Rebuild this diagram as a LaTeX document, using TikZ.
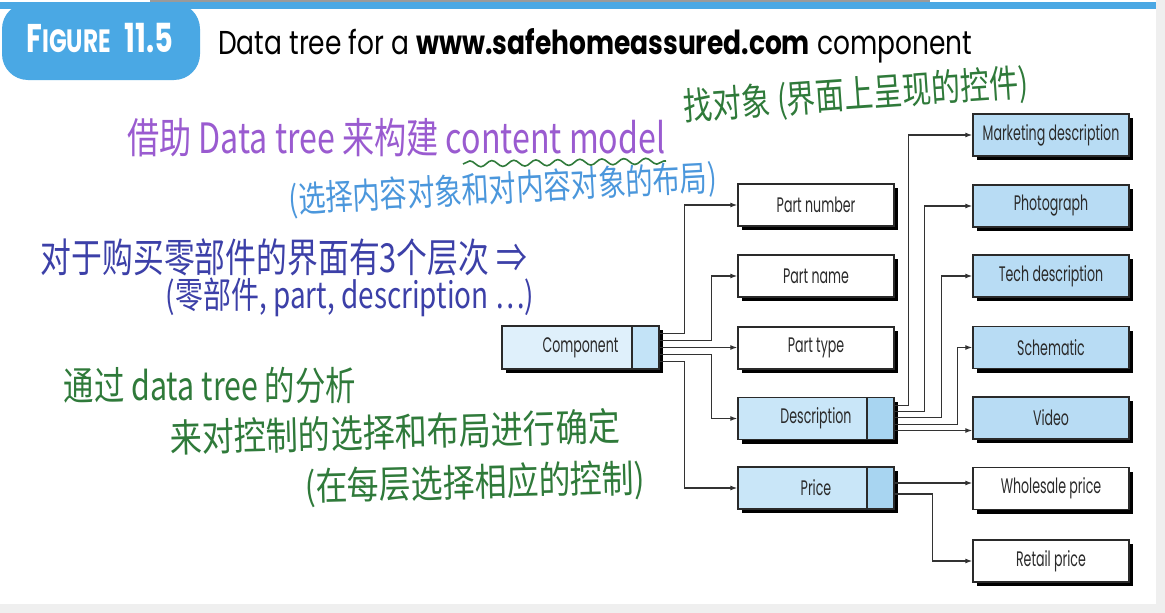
\documentclass[tikz,border=0pt]{standalone}
\usepackage{fontspec}
\setmainfont{Poppins}
\newfontfamily\boxfont[FakeStretch=0.6]{Poppins}
\newfontfamily\titlefont[FakeStretch=0.8]{Poppins}
\newfontfamily\tabfont[FakeStretch=0.72]{Poppins}
\newfontfamily\cjk{Noto Sans CJK SC}
\usetikzlibrary{shadows,arrows.meta,decorations.pathmorphing,calc}
\definecolor{tabblue}{HTML}{4AA8E4}
\definecolor{topgray}{HTML}{9A9A9A}
\definecolor{edgegray}{HTML}{EFEFEF}
\definecolor{boxblue}{HTML}{B8DCF4}
\definecolor{compmain}{HTML}{DFF0FB}
\definecolor{compcell}{HTML}{C3E3F7}
\definecolor{descmain}{HTML}{C9E6F8}
\definecolor{desccell}{HTML}{A8D5F1}
\definecolor{boxline}{HTML}{2A2A2A}
\definecolor{linec}{HTML}{333333}
\definecolor{textc}{HTML}{2B2B2B}
\definecolor{hpurple}{HTML}{9A5BD0}
\definecolor{hblue}{HTML}{4B97DC}
\definecolor{hdblue}{HTML}{3C40A8}
\definecolor{hgreen}{HTML}{2F7A3A}
\newcommand{\handtext}[3][1.3]{\scalebox{1}[#1]{\resizebox{#2}{!}{#3}}}
\tikzset{
  bx/.style={draw=boxline, line width=1.4pt, minimum width=156pt, minimum height=42pt,
    inner sep=0pt, font=\boxfont\fontsize{21}{22}\selectfont, text=textc,
    drop shadow={shadow xshift=4pt, shadow yshift=-4pt, fill=black, opacity=1}},
  wbox/.style={bx, fill=white},
  bbox/.style={bx, fill=boxblue},
  cell/.style={path picture={
      \fill[#1] ([xshift=-27pt]path picture bounding box.north east) rectangle (path picture bounding box.south east);
      \draw[line width=1.3pt, draw=boxline] ([xshift=-27pt]path picture bounding box.north east) -- ([xshift=-27pt]path picture bounding box.south east);}},
  conn/.style={draw=linec, line width=1.3pt, -{Latex[length=7pt,width=5pt]}},
  hand/.style={inner sep=0pt, font=\cjk},
}
\begin{document}
\begin{tikzpicture}[x=1pt,y=-1pt]
\useasboundingbox (0,0) rectangle (1165,613);
% page edges
\fill[white] (0,0) rectangle (1165,613);
\fill[edgegray] (1156,0) rectangle (1165,613);
\fill[edgegray] (0,604) rectangle (1165,613);
\fill[topgray] (150,0) rectangle (930,2);
\fill[tabblue] (0,2) rectangle (1156,9);
\fill[tabblue, rounded corners=26pt] (2,3) rectangle (200,80);
% figure tab and title
\node[inner sep=0pt, text=white, anchor=center] (tab) at (100,38)
  {\resizebox{147pt}{!}{\tabfont\bfseries\fontsize{36}{38}\selectfont F{\fontsize{29}{30}\selectfont IGURE}\hspace{0.35em}11.5}};
\node[inner sep=0pt, anchor=base west, text=black] (title) at (218,54)
  {\resizebox{754pt}{!}{\titlefont\fontsize{31}{34}\selectfont Data tree for a \textbf{www.safehomeassured.com} component}};
% boxes
\node[bx, fill=compmain, cell=compcell, minimum width=157pt, minimum height=43pt] (comp) at (580.5,347.5) {Component};
\node[wbox] (pn) at (816,205) {Part number};
\node[wbox] (pname) at (816,276) {Part name};
\node[wbox] (ptype) at (816,348) {Part type};
\node[bx, fill=descmain, cell=desccell] (desc) at (816,418.5) {Description};
\node[bx, fill=descmain, cell=desccell] (price) at (816,488) {Price};
\node[bbox] (mkt) at (1051,135) {Marketing description};
\node[bbox] (photo) at (1051,206) {Photograph};
\node[bbox] (tech) at (1051,276) {Tech description};
\node[bbox] (schem) at (1051,347.5) {Schematic};
\node[bbox] (video) at (1051,418) {Video};
\node[wbox] (whole) at (1051,488.5) {Wholesale price};
\node[wbox] (retail) at (1051,561) {Retail price};
% connectors
\draw[conn] ([yshift=14pt]comp.east) -| ($(pn.west)+(-53,0)$) -- (pn.west);
\draw[conn] ([yshift=7pt]comp.east) -| ($(pname.west)+(-26,0)$) -- (pname.west);
\draw[conn] (comp.east) -- (comp.east -| ptype.west);
\draw[conn] ([yshift=-7pt]comp.east) -| ($(desc.west)+(-26,0)$) -- (desc.west);
\draw[conn] ([yshift=-14pt]comp.east) -| ($(price.west)+(-53,0)$) -- (price.west);
\draw[conn] ([yshift=13pt]desc.east) -| ($(mkt.west)+(-64,0)$) -- (mkt.west);
\draw[conn] ([yshift=7pt]desc.east) -| ($(photo.west)+(-48,0)$) -- (photo.west);
\draw[conn] ([yshift=1pt]desc.east) -| ($(tech.west)+(-31,0)$) -- (tech.west);
\draw[conn] ([yshift=-6pt]desc.east) -| ($(schem.west)+(-15,0)$) -- (schem.west);
\draw[conn] ([yshift=-12pt]desc.east) -- ([yshift=-12pt]desc.east -| video.west);
\draw[conn] ([yshift=5pt]price.east) -- ([yshift=5pt]price.east -| whole.west);
\draw[conn] ([yshift=-6pt]price.east) -| ($(retail.west)+(-40,0)$) -- (retail.west);
% handwritten notes
\node[hand, text=hpurple, anchor=west] (h1) at (127,138)
  {\handtext{538pt}{借助 Data tree 来构建 content model}};
\coordinate (w1) at (463,164);
\coordinate (w2) at (666,161);
\draw[hgreen, line width=1.6pt, decorate, decoration={snake, amplitude=3pt, segment length=22pt}] (w1) -- (w2);
\node[hand, text=hgreen, rotate=4] (h2) at (856,96)
  {\handtext{345pt}{找对象 (界面上呈现的控件)}};
\node[hand, text=hblue, rotate=3] (h3) at (503,190)
  {\handtext{428pt}{(选择内容对象和对内容对象的布局)}};
\node[hand, text=hdblue] (h4) at (284,257)
  {\handtext{486pt}{对于购买零部件的界面有3个层次 ⇒}};
\node[hand, text=hdblue] (h5) at (350,297)
  {\handtext{368pt}{(零部件, part, description …)}};
\node[hand, text=hgreen] (h6) at (210,385)
  {\handtext{292pt}{通过 data tree 的分析}};
\node[hand, text=hgreen, rotate=1.5] (h7) at (395,432)
  {\handtext[1.2]{450pt}{来对控制的选择和布局进行确定}};
\node[hand, text=hgreen, rotate=1.5] (h8) at (475,484)
  {\handtext[1.2]{340pt}{(在每层选择相应的控制)}};
\end{tikzpicture}
\end{document}
